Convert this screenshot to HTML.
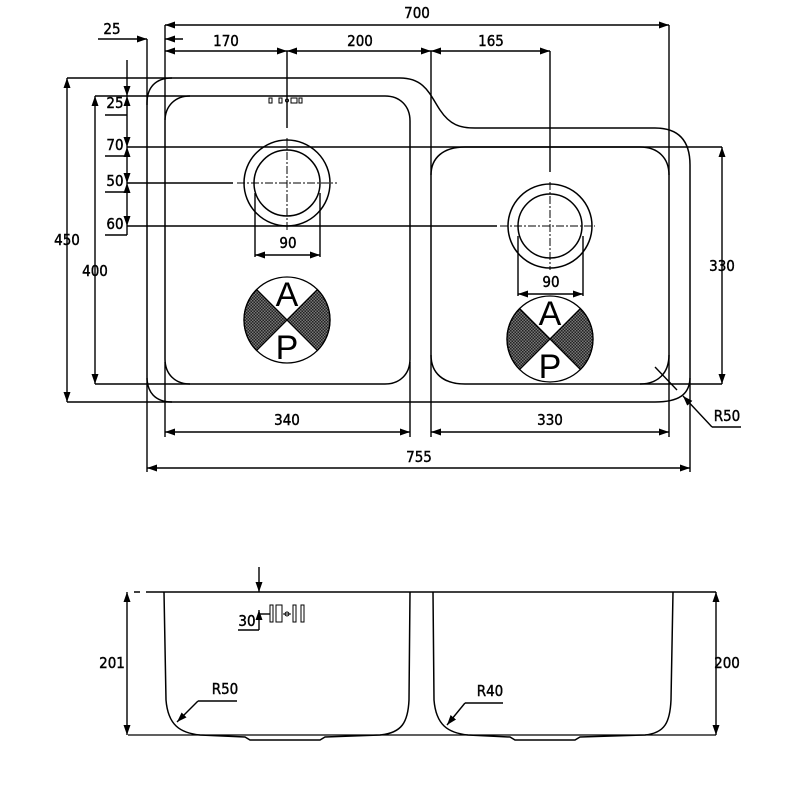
<!DOCTYPE html>
<html><head><meta charset="utf-8"><style>
html,body{margin:0;padding:0;background:#fff;width:800px;height:800px;overflow:hidden}
svg{display:block}
text{font-family:"DejaVu Sans Condensed","Liberation Sans",sans-serif;font-size:15px;fill:#000;stroke:#000;stroke-width:0.4}
text.big{font-family:"Liberation Sans",sans-serif;font-size:34px;stroke-width:0}
</style></head><body>
<svg width="800" height="800" viewBox="0 0 800 800" xmlns="http://www.w3.org/2000/svg">
<defs>
<marker id="a" viewBox="0 0 10 10" refX="10" refY="5" markerWidth="10" markerHeight="10" orient="auto-start-reverse" markerUnits="userSpaceOnUse"><path d="M0,1.5L10,5L0,8.5z" fill="#000"/></marker>
<pattern id="h" width="3" height="3" patternUnits="userSpaceOnUse"><rect width="3" height="3" fill="#777"/><rect width="1.5" height="1.5" fill="#222"/><rect x="1.5" y="1.5" width="1.5" height="1.5" fill="#222"/></pattern>
</defs>
<g fill="none" stroke="#000" stroke-width="1.5">
<path d="M172,78 H400 C425,78 430,95 440,110 C450,125 460,128 475,128 H655 C678,128 690,140 690,165 V377 C690,395 678,402 655,402 H172 C155,402 147,392 147,377 V103 C147,88 155,78 172,78 Z"/>
<path d="M190,96 H385 C400,96 410,106 410,121 V359 C410,374 400,384 385,384 H190 C175,384 165,374 165,359 V121 C165,106 175,96 190,96 Z"/>
<path d="M465,147 H640 C658,147 669,158 669,175 V355 C669,373 658,384 640,384 H465 C443,384 431,373 431,355 V175 C431,158 443,147 465,147 Z"/>
<circle cx="287" cy="183" r="43"/><circle cx="287" cy="183" r="33"/>
<circle cx="550" cy="226" r="42"/><circle cx="550" cy="226" r="32"/>
</g>
<g stroke="#000" stroke-width="1" fill="none" stroke-dasharray="8,2,2,2">
<line x1="237" y1="183" x2="337" y2="183"/><line x1="287" y1="138" x2="287" y2="230"/>
<line x1="500" y1="226" x2="595" y2="226"/><line x1="550" y1="182" x2="550" y2="270"/>
</g>
<g stroke="#000" stroke-width="1.3">
<circle cx="287" cy="320" r="43" fill="#fff"/>
<path d="M287,320 L256.6,289.6 A43,43 0 0 0 256.6,350.4Z M287,320 L317.4,289.6 A43,43 0 0 1 317.4,350.4Z" fill="url(#h)"/>
<circle cx="550" cy="339" r="43" fill="#fff"/>
<path d="M550,339 L519.6,308.6 A43,43 0 0 0 519.6,369.4Z M550,339 L580.4,308.6 A43,43 0 0 1 580.4,369.4Z" fill="url(#h)"/>
</g>
<g text-anchor="middle">
<text class="big" x="287" y="306">A</text><text class="big" x="287" y="359">P</text>
<text class="big" x="550" y="325">A</text><text class="big" x="550" y="378">P</text>
</g>
<g fill="none" stroke="#000" stroke-width="1">
<rect x="269" y="98" width="3" height="5"/><rect x="279" y="98" width="3" height="5"/><circle cx="287" cy="100.5" r="1.5"/><rect x="291" y="98" width="6" height="5"/><rect x="299" y="98" width="3" height="5"/>
</g>
<g stroke="#000" stroke-width="1.4" fill="none">
<line x1="165" y1="25" x2="165" y2="120"/><line x1="165" y1="362" x2="165" y2="437"/>
<line x1="147" y1="39" x2="147" y2="105"/><line x1="147" y1="378" x2="147" y2="472"/>
<line x1="410" y1="362" x2="410" y2="437"/>
<line x1="431" y1="51" x2="431" y2="175"/><line x1="431" y1="355" x2="431" y2="437"/>
<line x1="669" y1="25" x2="669" y2="175"/><line x1="669" y1="355" x2="669" y2="437"/>
<line x1="690" y1="378" x2="690" y2="472"/>
<line x1="287" y1="51" x2="287" y2="128"/><line x1="550" y1="51" x2="550" y2="172"/>
<line x1="165" y1="25" x2="669" y2="25" marker-start="url(#a)" marker-end="url(#a)"/>
<line x1="98" y1="39" x2="147" y2="39" marker-end="url(#a)"/><line x1="183" y1="39" x2="165" y2="39" marker-end="url(#a)"/>
<line x1="165" y1="51" x2="287" y2="51" marker-start="url(#a)" marker-end="url(#a)"/>
<line x1="287" y1="51" x2="431" y2="51" marker-start="url(#a)" marker-end="url(#a)"/>
<line x1="431" y1="51" x2="550" y2="51" marker-start="url(#a)" marker-end="url(#a)"/>
<line x1="67" y1="78" x2="172" y2="78"/><line x1="67" y1="402" x2="172" y2="402"/>
<line x1="67" y1="78" x2="67" y2="402" marker-start="url(#a)" marker-end="url(#a)"/>
<line x1="95" y1="96" x2="190" y2="96"/><line x1="95" y1="384" x2="190" y2="384"/>
<line x1="95" y1="96" x2="95" y2="384" marker-start="url(#a)" marker-end="url(#a)"/>
<line x1="127" y1="60" x2="127" y2="96" marker-end="url(#a)"/>
<line x1="127" y1="115" x2="127" y2="96" marker-end="url(#a)"/>
<line x1="127" y1="115" x2="127" y2="147" marker-end="url(#a)"/>
<line x1="127" y1="156" x2="127" y2="147" marker-end="url(#a)"/>
<line x1="127" y1="156" x2="127" y2="183" marker-end="url(#a)"/>
<line x1="127" y1="192" x2="127" y2="183" marker-end="url(#a)"/>
<line x1="127" y1="192" x2="127" y2="226" marker-end="url(#a)"/>
<line x1="127" y1="226" x2="127" y2="235"/>
<line x1="105" y1="115" x2="127" y2="115"/><line x1="105" y1="156" x2="127" y2="156"/>
<line x1="105" y1="192" x2="127" y2="192"/><line x1="105" y1="235" x2="127" y2="235"/>
<line x1="127" y1="147" x2="722" y2="147"/>
<line x1="127" y1="183" x2="233" y2="183"/>
<line x1="127" y1="226" x2="497" y2="226"/>
<line x1="640" y1="384" x2="722" y2="384"/>
<line x1="722" y1="147" x2="722" y2="384" marker-start="url(#a)" marker-end="url(#a)"/>
<line x1="255" y1="193" x2="255" y2="257"/><line x1="320" y1="193" x2="320" y2="257"/>
<line x1="255" y1="255" x2="320" y2="255" marker-start="url(#a)" marker-end="url(#a)"/>
<line x1="518" y1="236" x2="518" y2="296"/><line x1="583" y1="236" x2="583" y2="296"/>
<line x1="518" y1="294" x2="583" y2="294" marker-start="url(#a)" marker-end="url(#a)"/>
<line x1="165" y1="432" x2="410" y2="432" marker-start="url(#a)" marker-end="url(#a)"/>
<line x1="431" y1="432" x2="669" y2="432" marker-start="url(#a)" marker-end="url(#a)"/>
<line x1="147" y1="468" x2="690" y2="468" marker-start="url(#a)" marker-end="url(#a)"/>
<line x1="655" y1="367" x2="677" y2="390"/><line x1="712" y1="427" x2="683" y2="396" marker-end="url(#a)"/><line x1="712" y1="427" x2="741" y2="427"/>
</g>
<g text-anchor="middle">
<text x="417" y="18">700</text><text x="112" y="34">25</text>
<text x="226" y="46">170</text><text x="360" y="46">200</text><text x="491" y="46">165</text>
<text x="115" y="108">25</text><text x="115" y="150">70</text><text x="115" y="186">50</text><text x="115" y="229">60</text>
<text x="67" y="245">450</text><text x="95" y="276">400</text><text x="722" y="271">330</text>
<text x="288" y="248">90</text><text x="551" y="287">90</text>
<text x="287" y="425">340</text><text x="550" y="425">330</text><text x="419" y="462">755</text>
<text x="727" y="421">R50</text>
</g>
<g fill="none" stroke="#000" stroke-width="1.5">
<line x1="146" y1="592" x2="716" y2="592"/><line x1="134" y1="592" x2="140" y2="592"/>
<path d="M164,592 L166,700 C168,725 180,733 200,735 L245,737 L250,740 L320,740 L325,737 L380,735 C402,733 408,722 409,700 L410,592"/>
<path d="M433,592 L434,700 C436,725 448,733 468,735 L510,737 L515,740 L575,740 L580,737 L645,735 C665,733 670,722 671,700 L673,592"/>
<line x1="128" y1="735" x2="716" y2="735" stroke-width="1.3"/>
</g>
<g stroke="#000" stroke-width="1.4" fill="none">
<line x1="127" y1="592" x2="127" y2="735" marker-start="url(#a)" marker-end="url(#a)"/>
<line x1="716" y1="592" x2="716" y2="735" marker-start="url(#a)" marker-end="url(#a)"/>
<line x1="259" y1="567" x2="259" y2="592" marker-end="url(#a)"/>
<line x1="259" y1="630" x2="259" y2="610" marker-end="url(#a)"/>
<line x1="238" y1="630" x2="259" y2="630"/>
<line x1="259" y1="614" x2="270" y2="614"/>
<rect x="270" y="605" width="3" height="17" stroke-width="1"/><rect x="276" y="605" width="6" height="17" stroke-width="1"/>
<circle cx="287" cy="614" r="2" stroke-width="1"/><line x1="283" y1="614" x2="291" y2="614" stroke-width="1"/>
<rect x="293" y="605" width="3" height="17" stroke-width="1"/><rect x="301" y="605" width="3" height="17" stroke-width="1"/>
<line x1="198" y1="701" x2="237" y2="701"/><line x1="198" y1="701" x2="177" y2="722" marker-end="url(#a)"/>
<line x1="465" y1="703" x2="503" y2="703"/><line x1="465" y1="703" x2="447" y2="725" marker-end="url(#a)"/>
</g>
<g text-anchor="middle">
<text x="112" y="668">201</text><text x="727" y="668">200</text>
<text x="247" y="626">30</text><text x="225" y="694">R50</text><text x="490" y="696">R40</text>
</g>
</svg>
</body></html>
